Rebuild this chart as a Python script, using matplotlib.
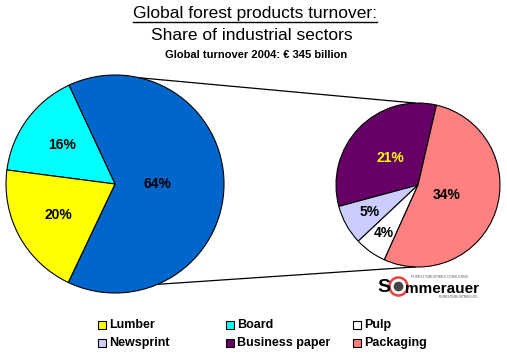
import matplotlib
matplotlib.use("Agg")
import matplotlib.pyplot as plt
import numpy as np
from matplotlib.patches import ConnectionPatch, Rectangle

# ---- data ----
main_labels = ["Paper", "Board", "Lumber"]
main_values = [64, 16, 20]
main_colors = ["#0066CC", "#00FFFF", "#FFFF00"]

sub_labels = ["Business paper", "Newsprint", "Pulp", "Packaging"]
sub_values = [21, 5, 4, 34]
sub_colors = ["#660066", "#CCCCFF", "#FFFFFF", "#FF8080"]

legend_labels = ["Lumber", "Board", "Pulp", "Newsprint", "Business paper", "Packaging"]
legend_colors = ["#FFFF00", "#00FFFF", "#FFFFFF", "#CCCCFF", "#660066", "#FF8080"]

title1 = "Global forest products turnover:"
title2 = "Share of industrial sectors"
title3 = "Global turnover 2004: \u20ac 345 billion"

W, H = 507, 355
fig = plt.figure(figsize=(W / 100, H / 100), dpi=100)
fig.patch.set_facecolor("white")

def px_axes(cx, cy, r, lim=1.02):
    s = r * lim
    return fig.add_axes([(cx - s) / W, (H - cy - s) / H, 2 * s / W, 2 * s / H])

# big pie
ax1 = px_axes(115, 184, 109)
w1, _ = ax1.pie(main_values, colors=main_colors, startangle=-115.4,
                counterclock=True,
                wedgeprops=dict(edgecolor="black", linewidth=0.8))
ax1.set_xlim(-1.02, 1.02); ax1.set_ylim(-1.02, 1.02)
main_dist = [0.39, 0.6, 0.59]
main_txtcol = ["black", "black", "black"]
for w, v, d, c in zip(w1, main_values, main_dist, main_txtcol):
    a = np.deg2rad((w.theta1 + w.theta2) / 2)
    ax1.text(d * np.cos(a), d * np.sin(a), f"{v}%", ha="center", va="center",
             fontsize=10, fontweight="bold", color=c, family="Liberation Sans")

# small pie
ax2 = px_axes(418, 185, 82)
w2, _ = ax2.pie(sub_values, colors=sub_colors, startangle=77, counterclock=True,
                wedgeprops=dict(edgecolor="black", linewidth=0.8))
ax2.set_xlim(-1.02, 1.02); ax2.set_ylim(-1.02, 1.02)
sub_dist = [0.47, 0.68, 0.72, 0.37]
sub_txtcol = ["#FFFF00", "black", "black", "black"]
for w, v, d, c in zip(w2, sub_values, sub_dist, sub_txtcol):
    a = np.deg2rad((w.theta1 + w.theta2) / 2)
    ax2.text(d * np.cos(a), d * np.sin(a), f"{v}%", ha="center", va="center",
             fontsize=10, fontweight="bold", color=c, family="Liberation Sans")

# connecting lines
for a_big, a_small in [(77, 92), (-67, -92)]:
    p1 = (np.cos(np.deg2rad(a_big)), np.sin(np.deg2rad(a_big)))
    p2 = (np.cos(np.deg2rad(a_small)), np.sin(np.deg2rad(a_small)))
    con = ConnectionPatch(xyA=p1, coordsA=ax1.transData, xyB=p2, coordsB=ax2.transData,
                          color="black", linewidth=0.9)
    fig.add_artist(con)

# titles
fig.text(255 / W, 1 - 18 / H, title1, ha="center", va="baseline", fontsize=12.5,
         family="Liberation Sans")
fig.add_artist(plt.Line2D([133 / W, 377 / W], [1 - 21.5 / H, 1 - 21.5 / H], color="black",
                          linewidth=1))
fig.text(252 / W, 1 - 40 / H, title2, ha="center", va="baseline", fontsize=12.5,
         family="Liberation Sans")
fig.text(256 / W, 1 - 58 / H, title3, ha="center", va="baseline", fontsize=8,
         fontweight="bold", family=["Liberation Sans Narrow", "Liberation Sans"])

# legend
col_x = [98, 226, 353]
row_y = [325, 343]
for i, (lab, col) in enumerate(zip(legend_labels, legend_colors)):
    x = col_x[i % 3]; y = row_y[i // 3]
    fig.add_artist(Rectangle((x / W, 1 - (y + 4) / H), 8 / W, 8 / H,
                             facecolor=col, edgecolor="black", linewidth=0.8,
                             transform=fig.transFigure))
    fig.text((x + 11) / W, 1 - y / H, lab, ha="left", va="center", fontsize=9,
             fontweight="bold", family="Liberation Sans")

# logo
fig.text(384 / W, 1 - 287 / H, "S", ha="center", va="center", fontsize=14,
         fontweight="bold", family="Liberation Sans")
ring = plt.Line2D([398 / W], [1 - 286 / H], marker="o", markersize=13,
                  markerfacecolor="none", markeredgecolor="#E84040", markeredgewidth=1.8)
fig.add_artist(ring)
eagle = plt.Line2D([398 / W], [1 - 286 / H], marker="o", markersize=6,
                   markerfacecolor="#444444", markeredgecolor="#444444")
fig.add_artist(eagle)
fig.text(405 / W, 1 - 289 / H, "mmerauer", ha="left", va="center", fontsize=11,
         fontweight="bold", family="Liberation Sans")
fig.text(440 / W, 1 - 277 / H, "FOREST INDUSTRIES CONSULTING", ha="center", va="center",
         fontsize=2.4, color="#555555", family="Liberation Sans")
fig.text(458 / W, 1 - 297 / H, "FORESTINDUSTRIES.EU", ha="center", va="center",
         fontsize=2.4, color="#555555", family="Liberation Sans")

fig.savefig("out.png", dpi=100, facecolor="white")
